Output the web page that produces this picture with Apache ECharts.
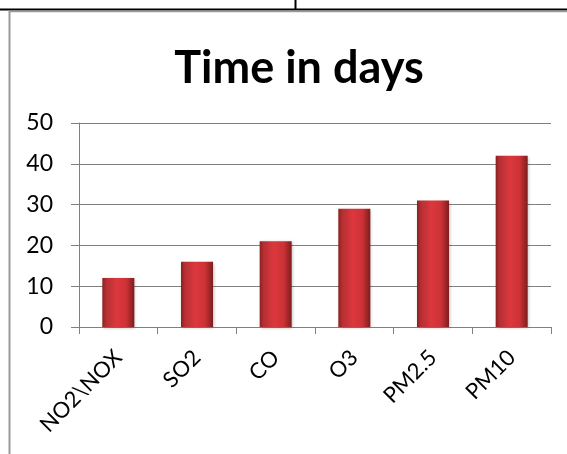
<!DOCTYPE html>
<html>
<head>
<meta charset="utf-8">
<script src="https://cdn.jsdelivr.net/npm/echarts@6/dist/echarts.min.js"></script>
<style>
html,body{margin:0;padding:0;background:#fff;}
#c{width:567px;height:454px;}
</style>
</head>
<body>
<div id="c"></div>
<script>
const titleText = 'Time in days';
const categories = ['NO2\\NOX', 'SO2', 'CO', 'O3', 'PM2.5', 'PM10'];
const values = [12, 16, 21, 29, 31, 42];
const yTicks = [0, 10, 20, 30, 40, 50];

const chart = echarts.init(document.getElementById('c'), null, {renderer: 'canvas'});
const barColor = new echarts.graphic.LinearGradient(0, 0, 1, 0, [
  {offset: 0, color: '#8a2020'},
  {offset: 0.12, color: '#b52f33'},
  {offset: 0.45, color: '#dc383d'},
  {offset: 0.75, color: '#cc3236'},
  {offset: 1, color: '#7e1d1d'}
]);
chart.setOption({
  animation: false,
  backgroundColor: '#fff',
  title: {
    text: titleText,
    left: 294, top: 41, textAlign: 'center',
    textStyle: {fontFamily: 'Lato', fontWeight: 'bold', fontSize: 45, color: '#000'}
  },
  grid: {left: 79, right: 16, top: 123, bottom: 127, containLabel: false},
  xAxis: {
    type: 'category',
    data: categories,
    axisLine: {show: true, lineStyle: {color: '#808080', width: 1}},
    axisTick: {show: true, length: 7, lineStyle: {color: '#808080'}},
    axisLabel: {rotate: 45, margin: 27, fontFamily: 'Lato', fontSize: 22, color: '#000'},
    splitLine: {show: false}
  },
  yAxis: {
    type: 'value',
    min: yTicks[0], max: yTicks[yTicks.length - 1], interval: 10,
    axisLine: {show: true, lineStyle: {color: '#808080', width: 1}},
    axisTick: {show: true, length: 8, lineStyle: {color: '#808080'}},
    axisLabel: {margin: 26, fontFamily: 'Lato', fontSize: 23, color: '#000'},
    splitLine: {show: true, lineStyle: {color: '#808080', width: 1}}
  },
  series: [{
    type: 'bar',
    data: values,
    barWidth: 32,
    itemStyle: {color: barColor, shadowColor: 'rgba(0,0,0,0.25)', shadowBlur: 3, shadowOffsetX: 1, shadowOffsetY: 1}
  }],
  graphic: [
    {type: 'line', shape: {x1: 0, y1: 9.5, x2: 567, y2: 9.5}, style: {stroke: '#000', lineWidth: 2}},
    {type: 'line', shape: {x1: 295.5, y1: 0, x2: 295.5, y2: 9}, style: {stroke: '#000', lineWidth: 2}},
    {type: 'line', shape: {x1: 9.5, y1: 11, x2: 9.5, y2: 454}, style: {stroke: '#9a9a9a', lineWidth: 2}},
    {type: 'line', shape: {x1: 9, y1: 11.5, x2: 567, y2: 11.5}, style: {stroke: '#9a9a9a', lineWidth: 1.5}}
  ]
});
</script>
</body>
</html>
